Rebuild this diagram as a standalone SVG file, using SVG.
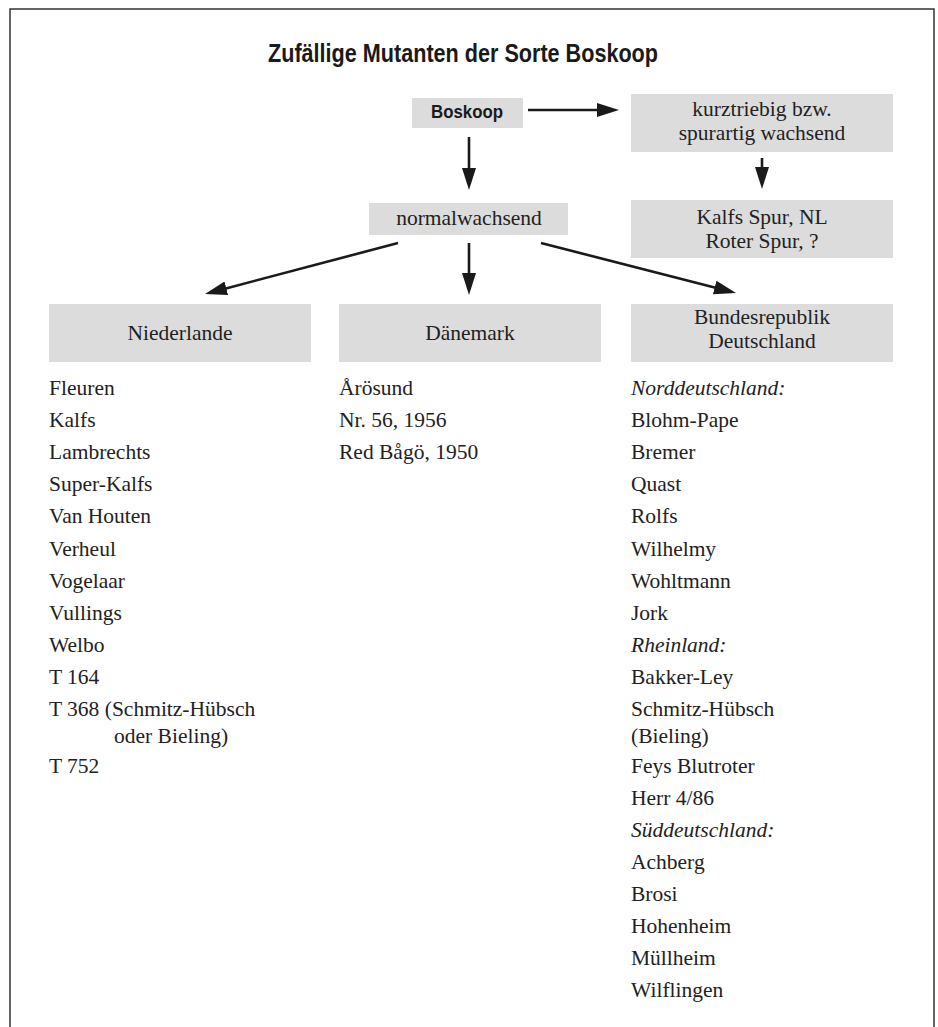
<svg xmlns="http://www.w3.org/2000/svg" width="938" height="1027" viewBox="0 0 938 1027">
<defs>
<style>
.box{fill:#dcdcdc;}
.t{font-family:"Liberation Serif","Times New Roman",serif;font-size:21.5px;fill:#222;}
.c{text-anchor:middle;}
.i{font-style:italic;}
.b{font-family:"Liberation Sans",Arial,sans-serif;font-weight:bold;fill:#1a1a1a;}
.conn{stroke:#1a1a1a;stroke-width:2.6;fill:none;marker-end:url(#ah);}
.frame{stroke:#333;stroke-width:1.5;fill:none;}
</style>
<marker id="ah" markerUnits="userSpaceOnUse" markerWidth="24" markerHeight="16" refX="12" refY="7" orient="auto">
<path d="M0,0 L22,7 L0,14 z" fill="#1a1a1a"/>
</marker>
</defs>
<rect width="938" height="1027" fill="#fff"/>
<path class="frame" d="M10,1027 L10,9 L934,9 L934,1027"/>
<text class="b" x="268" y="62" font-size="26" textLength="390" lengthAdjust="spacingAndGlyphs">Zufällige Mutanten der Sorte Boskoop</text>

<g id="connectors">
<line class="conn" x1="528" y1="110" x2="609" y2="110"/>
<line class="conn" x1="469" y1="137" x2="469" y2="180"/>
<line class="conn" x1="762" y1="158" x2="762" y2="179"/>
<line class="conn" x1="398" y1="243" x2="214.7" y2="291.4"/>
<line class="conn" x1="469" y1="243" x2="469" y2="285"/>
<line class="conn" x1="541" y1="243" x2="726.3" y2="290.5"/>
</g>

<g id="boskoop">
<rect class="box" x="412" y="98" width="111" height="30"/>
<text class="b" x="431" y="118" font-size="17.5" textLength="72" lengthAdjust="spacingAndGlyphs">Boskoop</text>
</g>
<g id="kurztriebig">
<rect class="box" x="631" y="94" width="262" height="58"/>
<text class="t c" x="762" y="116">kurztriebig bzw.</text>
<text class="t c" x="762" y="140">spurartig wachsend</text>
</g>
<g id="spur">
<rect class="box" x="631" y="200" width="262" height="58"/>
<text class="t c" x="762" y="224">Kalfs Spur, NL</text>
<text class="t c" x="762" y="248">Roter Spur, ?</text>
</g>
<g id="normalwachsend">
<rect class="box" x="369" y="203" width="199" height="32"/>
<text class="t c" x="469" y="225">normalwachsend</text>
</g>
<g id="niederlande">
<rect class="box" x="49" y="304" width="262" height="58"/>
<text class="t c" x="180" y="340">Niederlande</text>
</g>
<g id="daenemark">
<rect class="box" x="339" y="304" width="262" height="58"/>
<text class="t c" x="470" y="340">Dänemark</text>
</g>
<g id="brd">
<rect class="box" x="631" y="304" width="262" height="58"/>
<text class="t c" x="762" y="324">Bundesrepublik</text>
<text class="t c" x="762" y="348">Deutschland</text>
</g>

<g id="list-nl" class="t">
<text x="49" y="395">Fleuren</text>
<text x="49" y="427">Kalfs</text>
<text x="49" y="459">Lambrechts</text>
<text x="49" y="491">Super-Kalfs</text>
<text x="49" y="523">Van Houten</text>
<text x="49" y="556">Verheul</text>
<text x="49" y="588">Vogelaar</text>
<text x="49" y="620">Vullings</text>
<text x="49" y="652">Welbo</text>
<text x="49" y="684">T 164</text>
<text x="49" y="716">T 368 (Schmitz-Hübsch</text>
<text x="114" y="743">oder Bieling)</text>
<text x="49" y="773">T 752</text>
</g>
<g id="list-dk" class="t">
<text x="339" y="395">Årösund</text>
<text x="339" y="427">Nr. 56, 1956</text>
<text x="339" y="459">Red Bågö, 1950</text>
</g>
<g id="list-brd" class="t">
<text class="i" x="631" y="395">Norddeutschland:</text>
<text x="631" y="427">Blohm-Pape</text>
<text x="631" y="459">Bremer</text>
<text x="631" y="491">Quast</text>
<text x="631" y="523">Rolfs</text>
<text x="631" y="556">Wilhelmy</text>
<text x="631" y="588">Wohltmann</text>
<text x="631" y="620">Jork</text>
<text class="i" x="631" y="652">Rheinland:</text>
<text x="631" y="684">Bakker-Ley</text>
<text x="631" y="716">Schmitz-Hübsch</text>
<text x="631" y="743">(Bieling)</text>
<text x="631" y="773">Feys Blutroter</text>
<text x="631" y="805">Herr 4/86</text>
<text class="i" x="631" y="837">Süddeutschland:</text>
<text x="631" y="869">Achberg</text>
<text x="631" y="901">Brosi</text>
<text x="631" y="933">Hohenheim</text>
<text x="631" y="965">Müllheim</text>
<text x="631" y="997">Wilflingen</text>
</g>
</svg>
